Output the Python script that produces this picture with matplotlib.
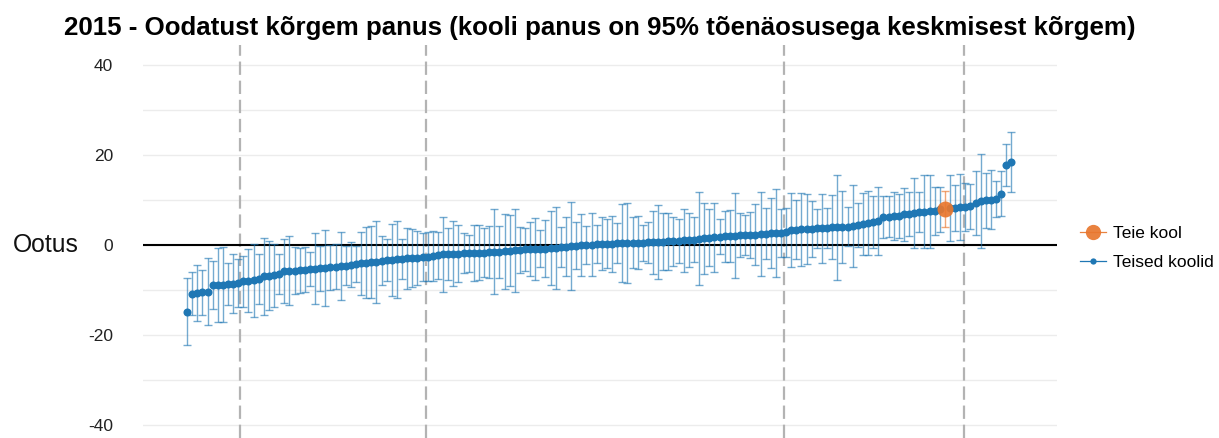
import matplotlib
matplotlib.use("Agg")
import matplotlib.pyplot as plt
from matplotlib.lines import Line2D
import numpy as np

plt.rcParams['font.family'] = ['Liberation Sans', 'DejaVu Sans']

# ---- data ----
title = "2015 - Oodatust kõrgem panus (kooli panus on 95% tõenäosusega keskmisest kõrgem)"
y_label = "Ootus"
series_names = ["Teie kool", "Teised koolid"]
y_ticks = [-40, -20, 0, 20, 40]
y_minor_ticks = [-30, -10, 10, 30]

ootus_a = [-14.8, -10.8, -10.6, -10.5, -10.4, -8.9, -8.9, -8.8, -8.7, -8.6, -8.4, -8.1, -7.9,
           -7.8, -7.5, -7.0, -6.8, -6.7, -6.5, -5.8, -5.7, -5.7, -5.6, -5.5, -5.4, -5.3]
ootus_b = [-5.2, -5.1, -4.9, -4.8, -4.7, -4.6, -4.4, -4.3, -4.1, -3.9, -3.8, -3.7, -3.5, -3.4,
           -3.3, -3.2, -3.1, -3.0, -2.9, -2.8, -2.7, -2.6, -2.4, -2.3, -2.1, -2.0, -1.9, -1.9]
ootus_c = [-1.8, -1.8, -1.8, -1.7, -1.7, -1.6, -1.5, -1.5, -1.4, -1.3, -1.2, -1.1, -1.0, -0.9,
           -0.9, -0.8, -0.8, -0.7, -0.6, -0.5, -0.4, -0.3, -0.2, -0.1, 0.0, 0.1, 0.2]
ootus_d = [0.3, 0.3, 0.3, 0.4, 0.4, 0.4, 0.5, 0.5, 0.5, 0.6, 0.6, 0.7, 0.7, 0.8, 0.8, 0.9,
           1.0, 1.1, 1.2, 1.4, 1.5, 1.6, 1.7, 1.8, 1.9, 2.0, 2.1]
ootus_e = [2.2, 2.2, 2.3, 2.3, 2.4, 2.5, 2.6, 2.6, 2.7, 2.8, 3.3, 3.4, 3.5, 3.6, 3.6, 3.7,
           3.7, 3.8, 3.9, 3.9, 4.0, 4.1, 4.2, 4.4, 4.6, 4.8, 5.1]
ootus_f = [5.3, 6.2, 6.3, 6.4, 6.5, 6.8, 6.9, 7.1, 7.3, 7.4, 7.5, 7.6, 7.9, 8.0, 8.2, 8.2,
           8.4, 8.5, 8.6, 9.4, 9.8, 9.9, 10.1, 10.2, 11.4, 17.8, 18.4]

err_a = [7.4, 4.8, 6.2, 5.0, 7.4, 5.4, 8.3, 8.4, 4.6, 6.6, 5.3, 5.6, 7.0, 8.1, 5.6, 8.5, 7.7,
         7.0, 4.4, 7.2, 7.6, 5.2, 5.0, 5.0, 3.8, 7.9]
err_b = [5.0, 8.4, 5.0, 5.0, 7.5, 4.3, 5.0, 4.0, 7.0, 7.8, 8.0, 9.1, 5.4, 4.7, 8.0, 8.5, 4.5,
         6.8, 6.5, 6.0, 5.3, 5.5, 5.6, 5.2, 8.3, 5.7, 7.3, 6.3]
err_c = [4.4, 4.1, 6.2, 6.1, 5.4, 5.8, 9.5, 5.8, 8.3, 7.9, 9.2, 5.1, 4.7, 6.1, 6.8, 4.2, 6.4,
         8.2, 9.1, 4.4, 6.6, 9.8, 5.2, 6.9, 4.2, 6.9, 4.3]
err_d = [5.9, 5.4, 6.2, 4.4, 8.7, 8.9, 5.7, 5.9, 4.0, 4.5, 7.0, 8.2, 6.3, 6.4, 5.5, 4.9, 7.1,
         6.1, 5.0, 10.3, 7.9, 6.3, 7.6, 3.9, 5.6, 5.7, 9.4]
err_e = [4.8, 4.5, 5.1, 6.8, 9.3, 5.7, 7.8, 9.8, 5.4, 5.4, 8.2, 6.5, 8.1, 7.8, 6.2, 4.3, 7.6,
         4.4, 7.1, 11.7, 8.1, 4.3, 9.2, 4.9, 6.9, 7.1, 5.8]
err_f = [7.6, 4.6, 4.6, 5.3, 4.9, 5.9, 4.9, 7.7, 4.4, 8.1, 8.1, 5.3, 5.0, 4.1, 7.3, 5.1, 7.4,
         5.3, 5.0, 7.1, 10.4, 6.1, 6.6, 4.0, 5.0, 4.7, 6.7]

teie_kool_rank = 148                       # position of "Teie kool" in the sorted list
group_bounds = [10.35, 46.7, 116.6, 151.8]  # dashed separators (in rank units)

ootus = np.array(ootus_a + ootus_b + ootus_c + ootus_d + ootus_e + ootus_f)
err = np.array(err_a + err_b + err_c + err_d + err_e + err_f)
rank = np.arange(len(ootus))

# ---- figure ----
W, H = 1219, 438
fig = plt.figure(figsize=(W / 100, H / 100), dpi=100)
ax = fig.add_axes([143 / W, 0, 914 / W, 393 / H])

blue = '#1f77b4'
orange = '#e8772e'

others = rank != teie_kool_rank
ax.errorbar(rank[others], ootus[others], yerr=err[others], fmt='none',
            ecolor=blue, alpha=0.62, elinewidth=1.0, capsize=3, capthick=1.0, zorder=3)
ax.plot(rank[others], ootus[others], 'o', color=blue, ms=5.8, mec=blue, mew=0, zorder=4)

ax.errorbar([rank[teie_kool_rank]], [ootus[teie_kool_rank]], yerr=[err[teie_kool_rank]],
            fmt='none', ecolor=orange, alpha=0.65, elinewidth=1.0, capsize=3,
            capthick=1.0, zorder=5)
ax.plot([rank[teie_kool_rank]], [ootus[teie_kool_rank]], 'o', color=orange, alpha=0.92,
        ms=11.5, mew=0, zorder=6)

for gb in group_bounds:
    ax.axvline(gb, color='#b3b3b3', lw=1.6, dashes=(6, 2.6), zorder=2)

ax.axhline(0, color='black', lw=1.5, zorder=2.5)

ax.set_xlim(-8.6, 169.9)
ax.set_ylim(-42.9, 44.44)
ax.set_yticks(y_ticks)
ax.set_yticks(y_minor_ticks, minor=True)
ax.set_yticklabels([str(t) for t in y_ticks])
ax.set_xticks([])
ax.grid(True, axis='y', which='both', color='#ececec', lw=1.0, zorder=0)
ax.set_axisbelow(True)
for s in ax.spines.values():
    s.set_visible(False)
ax.tick_params(axis='y', which='both', length=0, pad=21.5, labelsize=12.5,
               labelcolor='#222222')

fig.text(45.5 / W, 1 - 245 / H, y_label, ha='center', va='center', fontsize=17.8,
         color='#111111')
fig.text(600 / W, 1 - 28 / H, title, ha='center', va='center', fontsize=18.6,
         fontweight='bold', color='black')

handles = [
    Line2D([0], [0], color=orange, lw=0.9, marker='o', ms=11, mew=0, alpha=0.92),
    Line2D([0], [0], color=blue, lw=0.9, marker='o', ms=4.5, mew=0),
]
fig.legend(handles, series_names, loc='center left',
           bbox_to_anchor=(1080 / W, 1 - 248 / H), frameon=False, fontsize=12.5,
           handlelength=1.5, handletextpad=0.4, labelspacing=0.75, borderpad=0,
           borderaxespad=0)

fig.savefig('out.png', dpi=100)
